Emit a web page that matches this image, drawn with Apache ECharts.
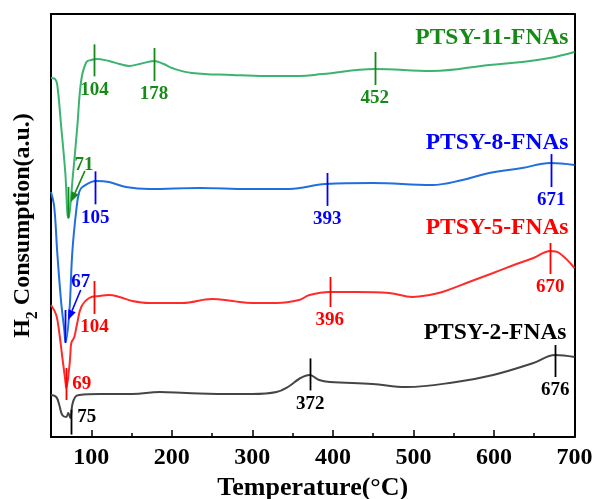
<!DOCTYPE html>
<html><head><meta charset="utf-8">
<script src="https://cdn.jsdelivr.net/npm/echarts@6/dist/echarts.min.js"></script>
<style>html,body{margin:0;padding:0;background:#fff}#c{width:593px;height:499px}</style>
</head><body><div id="c"></div>
<script>
// ---- data ----
const seriesNames = ['PTSY-2-FNAs', 'PTSY-5-FNAs', 'PTSY-8-FNAs', 'PTSY-11-FNAs'];
const xTickValues = [100, 200, 300, 400, 500, 600, 700];
const xMinorTickValues = [150, 250, 350, 450, 550, 650];

const tempS2 = [50, 56.5, 60.3, 64, 69, 71.4, 74, 76.4, 80, 85, 110, 151, 185, 218, 275, 300, 330, 346, 358, 371, 383, 396, 449, 491, 553, 599, 649, 676, 700];
const valS2  = [42, 40, 32, 22, 20, 24, 19, 32, 40, 42, 43, 43, 45, 44, 43, 43, 45, 51, 58, 62, 57, 55, 53, 50, 55, 62, 74, 82, 80];

const tempS5 = [50, 56.5, 60.3, 64, 67.7, 69, 72.7, 74, 75.2, 78.9, 82.6, 87.6, 97.5, 110, 122, 135, 151, 172, 213, 250, 275, 300, 330, 358, 371, 396, 429, 470, 499, 520, 536, 569, 599, 628, 649, 670, 681, 700];
const valS5  = [132, 122, 104, 80, 57, 49, 70, 82, 94, 100, 114, 130, 139, 141, 142, 140, 136, 134, 134, 138, 136, 134, 134, 137, 142, 145, 145, 144, 140, 142, 145, 155, 164, 173, 179, 186, 184, 169];

const tempS8 = [50, 54, 57.8, 62.7, 66.5, 68, 72.7, 76.4, 81.4, 85, 89, 106, 122, 143, 172, 234, 296, 346, 391, 449, 523, 561, 594, 635, 670, 700];
const valS8  = [245, 230, 184, 134, 107, 95, 124, 184, 227, 245, 250, 256, 255, 250, 248, 249, 248, 248, 253, 254, 252, 257, 264, 269, 274, 272];

const tempS11 = [50, 55, 57.8, 62.7, 67.7, 71.5, 77.6, 82.6, 87.6, 94, 100, 106, 122, 135, 147, 160, 178, 190, 200, 225, 275, 317, 358, 387, 452, 523, 594, 635, 669, 700];
const valS11  = [359, 358, 352, 310, 265, 219, 265, 310, 357, 375, 377, 378, 376, 373, 371, 373, 376, 373, 369, 364, 362, 361, 361, 363, 368, 366, 372, 375, 379, 385];

const peaksS2  = [75, 372, 676];
const peaksS5  = [69, 104, 396, 670];
const peaksS8  = [67, 105, 393, 671];
const peaksS11 = [71, 104, 178, 452];

// ---- styles / layout (pixel offsets relative to curve point) ----
const FONT = '"Liberation Serif", "Times New Roman", serif';
const layoutS2 = [
  {k: 'right', t: -3, b: 22, lx: 6, ly: 5},
  {k: 'below', t: -17, b: 15},
  {k: 'below', t: -10, b: 22}
];
const layoutS5 = [
  {k: 'right', t: -20, b: 12, lx: 6, ly: -4},
  {k: 'below', t: -16, b: 17},
  {k: 'below', t: -15, b: 15},
  {k: 'below', t: -8, b: 23}
];
const layoutS8 = [
  {k: 'arrow', t: -24, b: 9, lx: 16, ly: -52, ax1: 16, ay1: -44, ax2: 3.5, ay2: -14},
  {k: 'below', t: -10, b: 23},
  {k: 'below', t: -11, b: 22},
  {k: 'below', t: -9, b: 24}
];
const layoutS11 = [
  {k: 'arrow', t: -25, b: 6, lx: 16, ly: -47, ax1: 17, ay1: -41, ax2: 3, ay2: -10},
  {k: 'below', t: -15, b: 17},
  {k: 'below', t: -13, b: 20},
  {k: 'below', t: -17, b: 16}
];

const lineColors = ['#454545', '#ff2b2b', '#1f6fdc', '#3cb371'];
const markColors = ['#000000', '#ff0000', '#0000ff', '#168a16'];
const nameOffsets = [[-8, -24], [-6, -40], [-6, -22], [-6, -14]];

function interp(ts, vs, t) {
  for (let i = 0; i < ts.length - 1; i++) {
    if (t >= ts[i] && t <= ts[i + 1]) {
      return vs[i] + (vs[i + 1] - vs[i]) * (t - ts[i]) / (ts[i + 1] - ts[i]);
    }
  }
  return vs[vs.length - 1];
}
function zip(ts, vs) { return ts.map((t, i) => [t, vs[i]]); }

function lineSeries(idx, ts, vs) {
  return {
    name: seriesNames[idx], type: 'line', data: zip(ts, vs), smooth: 0.4,
    showSymbol: false, symbol: 'none', clip: false,
    lineStyle: {color: lineColors[idx], width: 2},
    itemStyle: {color: lineColors[idx]},
    z: 3,
    endLabel: {
      show: true, formatter: seriesNames[idx], align: 'right', verticalAlign: 'middle',
      distance: 0, offset: nameOffsets[idx], color: markColors[idx],
      fontSize: 23.5, fontWeight: 'bold', fontFamily: FONT
    }
  };
}

function markSeries(idx, ts, vs, peaks, layout) {
  const color = markColors[idx];
  return {
    type: 'custom', coordinateSystem: 'cartesian2d', clip: false, silent: true, z: 10,
    encode: {x: 0, y: 1},
    data: peaks.map(t => [t, interp(ts, vs, t)]),
    renderItem(params, api) {
      const L = layout[params.dataIndex];
      const label = String(peaks[params.dataIndex]);
      const p = api.coord([api.value(0), api.value(1)]);
      const x = Math.round(p[0]) + 0.5;
      const children = [{
        type: 'line', shape: {x1: x, y1: p[1] + L.t, x2: x, y2: p[1] + L.b},
        style: {stroke: color, lineWidth: 1.8}
      }];
      let tx, ty, align, va;
      if (L.k === 'below') { tx = p[0]; ty = p[1] + L.b + 4; align = 'center'; va = 'top'; }
      else if (L.k === 'right') { tx = p[0] + L.lx; ty = p[1] + L.ly; align = 'left'; va = 'middle'; }
      else { tx = p[0] + L.lx; ty = p[1] + L.ly; align = 'center'; va = 'middle'; }
      children.push({
        type: 'text',
        style: {text: label, x: tx, y: ty, align: align, verticalAlign: va, fill: color,
                fontSize: 19, fontWeight: 'bold', fontFamily: FONT}
      });
      if (L.k === 'arrow') {
        const x1 = p[0] + L.ax1, y1 = p[1] + L.ay1, x2 = p[0] + L.ax2, y2 = p[1] + L.ay2;
        const ang = Math.atan2(y2 - y1, x2 - x1);
        const hl = 10, hw = 4;
        const bx = x2 - hl * Math.cos(ang), by = y2 - hl * Math.sin(ang);
        const nx = -Math.sin(ang) * hw, ny = Math.cos(ang) * hw;
        children.push({type: 'line', shape: {x1: x1, y1: y1, x2: bx, y2: by},
                       style: {stroke: color, lineWidth: 1.6}});
        children.push({type: 'polygon', shape: {points: [[x2, y2], [bx + nx, by + ny], [bx - nx, by - ny]]},
                       style: {fill: color}});
      }
      return {type: 'group', children: children};
    }
  };
}

const hiddenAxis = {axisTick: {show: false}, axisLabel: {show: false}, splitLine: {show: false}};
const chart = echarts.init(document.getElementById('c'), null, {renderer: 'canvas'});
chart.setOption({
  animation: false,
  backgroundColor: '#fff',
  grid: {left: 51, right: 18.5, top: 14, bottom: 62, containLabel: false, outerBoundsMode: 'none'},
  xAxis: [{
    type: 'value', min: 50, max: 700, position: 'bottom',
    name: 'Temperature(\u00b0C)', nameLocation: 'middle', nameGap: 33,
    nameTextStyle: {fontSize: 26, fontWeight: 'bold', fontFamily: FONT, color: '#000', verticalAlign: 'top'},
    axisLine: {show: true, onZero: false, lineStyle: {color: '#000', width: 2}},
    axisTick: {show: true, inside: true, length: 7, customValues: xTickValues, lineStyle: {color: '#000', width: 1.5}},
    axisLabel: {
      margin: 9, fontSize: 24, fontWeight: 'bold', fontFamily: FONT, color: '#000',
      customValues: xTickValues
    },
    splitLine: {show: false}
  }, {
    type: 'value', min: 50, max: 700, position: 'bottom', offset: 0,
    axisLine: {show: false},
    axisTick: {show: true, inside: true, length: 4, customValues: xMinorTickValues, lineStyle: {color: '#000', width: 1.5}},
    axisLabel: {show: false}, splitLine: {show: false}
  }, Object.assign({
    type: 'value', min: 50, max: 700, position: 'top',
    axisLine: {show: true, onZero: false, lineStyle: {color: '#000', width: 2}}
  }, hiddenAxis)],
  yAxis: [{
    type: 'value', min: 0, max: 423,
    name: '{a|H}{s|2}{a| Consumption(a.u.)}', nameLocation: 'middle', nameGap: 16,
    nameTextStyle: {
      color: '#000',
      rich: {
        a: {fontSize: 24, fontWeight: 'bold', fontFamily: FONT, color: '#000', lineHeight: 30, verticalAlign: 'bottom'},
        s: {fontSize: 16, fontWeight: 'bold', fontFamily: FONT, color: '#000', lineHeight: 30, verticalAlign: 'bottom', padding: [0, 0, -6, 0]}
      }
    },
    axisLine: {show: true, onZero: false, lineStyle: {color: '#000', width: 2}},
    axisTick: {show: false}, axisLabel: {show: false}, splitLine: {show: false}
  }, Object.assign({
    type: 'value', min: 0, max: 423, position: 'right',
    axisLine: {show: true, onZero: false, lineStyle: {color: '#000', width: 2}}
  }, hiddenAxis)],
  series: [
    lineSeries(0, tempS2, valS2),
    lineSeries(1, tempS5, valS5),
    lineSeries(2, tempS8, valS8),
    lineSeries(3, tempS11, valS11),
    markSeries(0, tempS2, valS2, peaksS2, layoutS2),
    markSeries(1, tempS5, valS5, peaksS5, layoutS5),
    markSeries(2, tempS8, valS8, peaksS8, layoutS8),
    markSeries(3, tempS11, valS11, peaksS11, layoutS11)
  ]
});
</script>
</body></html>
